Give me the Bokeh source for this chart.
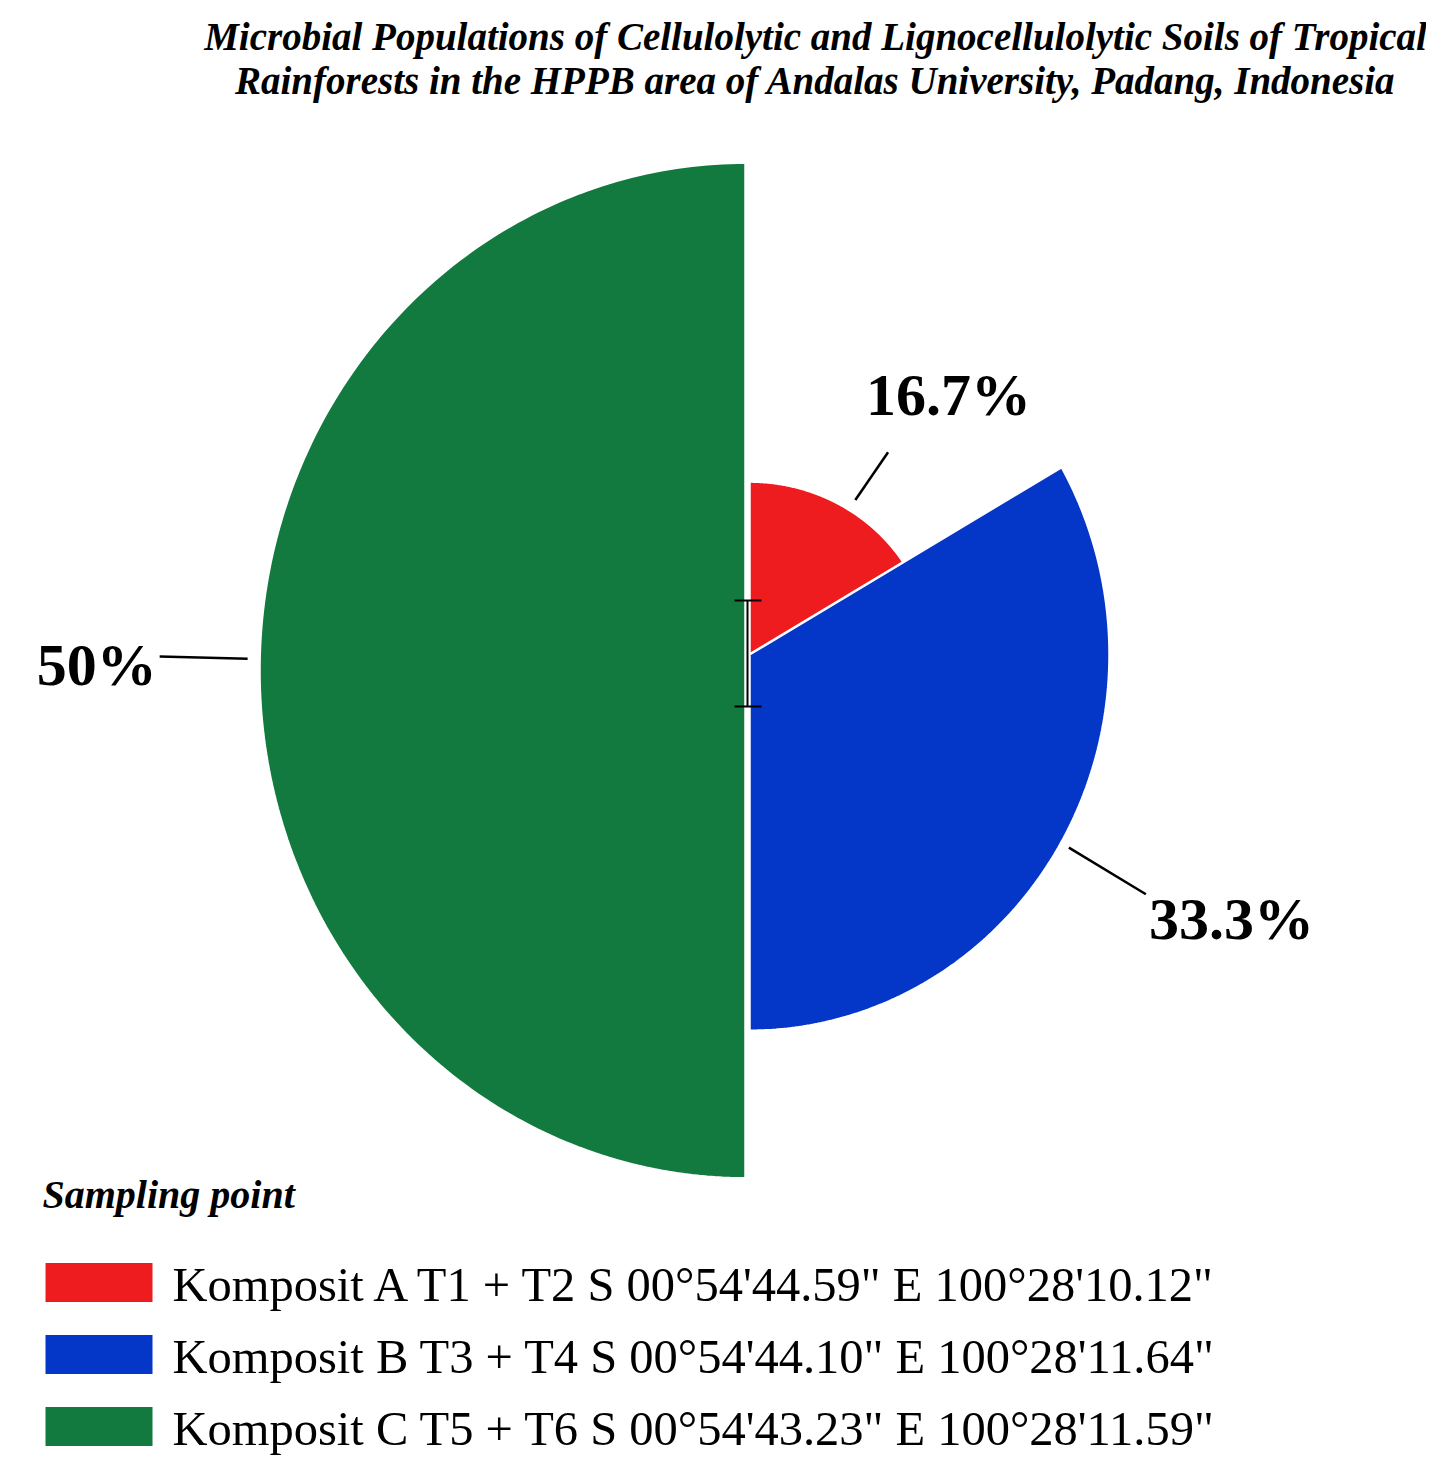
import numpy as np
from bokeh.plotting import figure
from bokeh.models import Range1d
from bokeh.core.properties import value
from bokeh.embed import file_html
from bokeh.resources import INLINE

# ---------------- data ----------------
categories = ["Komposit A", "Komposit B", "Komposit C"]
percent = [16.7, 33.3, 50.0]
pct_labels = ["16.7%", "33.3%", "50%"]
legend_labels = [
    "Komposit A T1 + T2 S 00\u00b054'44.59\" E 100\u00b028'10.12\"",
    "Komposit B T3 + T4 S 00\u00b054'44.10\" E 100\u00b028'11.64\"",
    "Komposit C T5 + T6 S 00\u00b054'43.23\" E 100\u00b028'11.59\"",
]
title_lines = [
    "Microbial Populations of Cellulolytic and Lignocellulolytic Soils of Tropical",
    "Rainforests in the HPPB area of Andalas University, Padang, Indonesia",
]
legend_title = "Sampling point"

# ---------------- styling / layout ----------------
colors = ["#ee1c1f", "#0437c8", "#127a3f"]
W, H = 1426, 1457
SERIF = "Liberation Serif"
cx, cy = 749, 654          # pie centre (page px)
k = [0.95, 1.045, 1.045]   # vertical stretch of each slice in the original picture
radii = [182, 360, 486]
centre_shift = [(0, 0), (0, 0), (-4, 16)]
leader_in = [12, 9, 12]
leader_out = [72, 98, 100]
leader_rot = [3, 0, 1.3]   # degrees
label_off = [(-22, -24), (3, -8), (-3, 8)]
label_align = ["left", "left", "right"]
label_base = ["bottom", "top", "middle"]

p = figure(width=W, height=H, output_backend="svg", toolbar_location=None,
           x_range=Range1d(0, W), y_range=Range1d(H, 0),
           min_border=0, outline_line_color=None)
p.axis.visible = False
p.grid.visible = False
p.background_fill_color = "white"
p.border_fill_color = "white"

# slices
total = sum(percent)
cum = np.cumsum([0] + percent)
xs, ys = [], []
lx0, ly0, lx1, ly1, tx, ty = [], [], [], [], [], []
for i, v in enumerate(percent):
    a0 = cum[i] / total * 2 * np.pi
    a1 = cum[i + 1] / total * 2 * np.pi
    t = np.linspace(a0, a1, 200)
    ox, oy = cx + centre_shift[i][0], cy + centre_shift[i][1]
    r = radii[i]
    xs.append([ox] + list(ox + r * np.sin(t)) + [ox])
    ys.append([oy] + list(oy - r * k[i] * np.cos(t)) + [oy])
    am = (a0 + a1) / 2 + np.deg2rad(leader_rot[i])
    r0, r1 = r + leader_in[i], r + leader_out[i]
    lx0.append(ox + r0 * np.sin(am)); ly0.append(oy - r0 * k[i] * np.cos(am))
    lx1.append(ox + r1 * np.sin(am)); ly1.append(oy - r1 * k[i] * np.cos(am))
    tx.append(lx1[-1] + label_off[i][0]); ty.append(ly1[-1] + label_off[i][1])

p.patches(xs, ys, fill_color=colors, line_color="white", line_width=2.5)
p.segment(lx0, ly0, lx1, ly1, line_color="black", line_width=2.5)

for i in range(3):
    p.text([tx[i]], [ty[i]], text=[pct_labels[i]], text_font=value(SERIF),
           text_font_style="bold", text_font_size="60px", text_color="black",
           text_align=label_align[i], text_baseline=label_base[i])

# small marker at the centre
p.segment([cx - 2, cx - 15, cx - 15], [cy - 54, cy - 54, cy + 52],
          [cx - 2, cx + 12, cx + 12], [cy + 52, cy - 54, cy + 52],
          line_color="black", line_width=2)

# title
for j, line in enumerate(title_lines):
    p.text([815], [36 + j * 44], text=[line], text_font=value(SERIF),
           text_font_style="bold italic", text_font_size="39px",
           text_align="center", text_baseline="middle", text_color="black")

# legend
p.text([42], [1194], text=[legend_title], text_font=value(SERIF),
       text_font_style="bold italic", text_font_size="40px",
       text_align="left", text_baseline="middle", text_color="black")
idx = np.arange(len(categories))
ly = 1282 + idx * 72
p.rect(x=[98.5] * 3, y=list(ly), width=107, height=39, fill_color=colors,
       line_color=None)
p.text([172] * 3, list(ly + 2), text=legend_labels, text_font=value(SERIF),
       text_font_size="48.5px", text_align="left", text_baseline="middle",
       text_color="black")

open("out.html", "w").write(file_html(p, INLINE))
